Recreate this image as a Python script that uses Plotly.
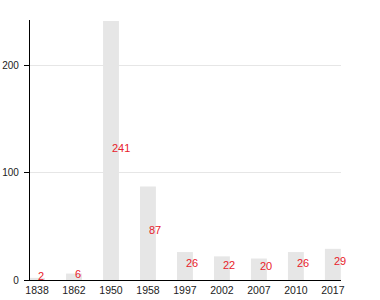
import plotly.graph_objects as go

years = ["1838", "1862", "1950", "1958", "1997", "2002", "2007", "2010", "2017"]
values = [2, 6, 241, 87, 26, 22, 20, 26, 29]
y_ticks = [0, 100, 200]

fig = go.Figure()
fig.add_trace(go.Bar(
    x=years, y=values, width=0.43,
    marker=dict(color="#e6e6e6", line=dict(width=0)),
    hoverinfo="skip",
))

for i, v in enumerate(values):
    fig.add_annotation(
        x=i, y=v / 2, xref="x", yref="y", text=str(v), showarrow=False,
        xanchor="left", yanchor="middle", xshift=-1, yshift=3,
        font=dict(color="#e8212b", size=11, family="Liberation Sans, Arial, sans-serif"),
    )

fig.update_layout(
    width=380, height=300,
    margin=dict(l=30, r=39, t=20, b=20),
    paper_bgcolor="white", plot_bgcolor="white",
    showlegend=False,
    font=dict(family="Liberation Sans, Arial, sans-serif", size=10, color="#222"),
)
fig.update_xaxes(
    type="category", range=[-0.19, 8.22], automargin=False,
    showline=True, linecolor="black", linewidth=1.2,
    showgrid=False, ticks="", ticklen=0,
    tickfont=dict(size=10.5, color="#222"),
)
fig.update_yaxes(
    range=[0, 242], tickvals=y_ticks, automargin=False,
    showline=True, linecolor="black", linewidth=1.2,
    showgrid=True, gridcolor="#e6e6e6", gridwidth=1,
    zeroline=False,
    ticks="outside", ticklen=5, tickcolor="black",
    ticklabelstandoff=3,
    tickfont=dict(size=10, color="#222"),
)

fig.write_html("out.html")
